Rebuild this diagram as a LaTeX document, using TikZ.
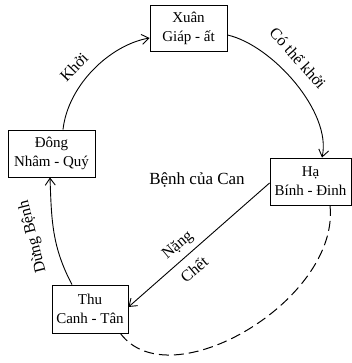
\documentclass[tikz,border=0pt]{standalone}
\usepackage{fontspec}
\setmainfont{Liberation Serif}
\usetikzlibrary{arrows.meta}
\begin{document}
\begin{tikzpicture}[x=1pt,y=-1pt,
  box/.style={draw, line width=0.9pt, align=center, inner sep=0pt, font=\fontsize{15}{19}\selectfont},
  arr/.style={line width=0.9pt, -{Straight Barb[length=7pt,width=10pt]}},
  rarr/.style={line width=0.9pt, {Straight Barb[length=7pt,width=10pt]}-},
  dline/.style={line width=1pt, dash pattern=on 10pt off 5pt},
  lab/.style={font=\fontsize{16}{18}\selectfont, inner sep=1pt}]
\useasboundingbox (0,0) rectangle (352,363);
\node[box, minimum width=77pt, minimum height=46pt] (xuan) at (188.5,28) {Xuân\\Giáp - ất};
\node[box, minimum width=87pt, minimum height=47pt] (dong) at (51.5,153.5) {Đông\\Nhâm - Quý};
\node[box, minimum width=81pt, minimum height=47pt] (ha) at (310.5,181.5) {Hạ\\Bính - Đinh};
\node[box, minimum width=76pt, minimum height=48pt] (thu) at (90,309) {Thu\\Canh - Tân};
\node[font=\fontsize{17}{20}\selectfont] (title) at (197,180) {Bệnh của Can};
% arrows
\draw[arr] ([xshift=11.5pt]dong.north) .. controls (68,85) and (110,45) .. ([yshift=-10pt]xuan.west);
\draw[arr] ([yshift=-7pt]xuan.east) .. controls (272,45) and (332,112) .. ([xshift=11.5pt]ha.north);
\draw[rarr] (thu.east |- 0,307) -- (ha.west |- 0,183);
\draw[arr] ([xshift=-18pt]thu.north) to[out=118,in=272] ([xshift=-1.5pt]dong.south);
\draw[dline] ([xshift=-8pt]thu.south east) .. controls (170,400) and (340,300) .. ([xshift=19.5pt]ha.south);
% labels
\node[lab, rotate=46] (lkhoi) at (74,67) {Khởi};
\node[lab, rotate=-48] (lcothe) at (298,58) {Có thể khởi};
\node[lab, rotate=40] (lnang) at (178,246) {Nặng};
\node[lab, rotate=40] (lchet) at (194,269) {Chết};
\node[lab, rotate=104] (ldung) at (33,237) {Dừng Bệnh};
\end{tikzpicture}
\end{document}
